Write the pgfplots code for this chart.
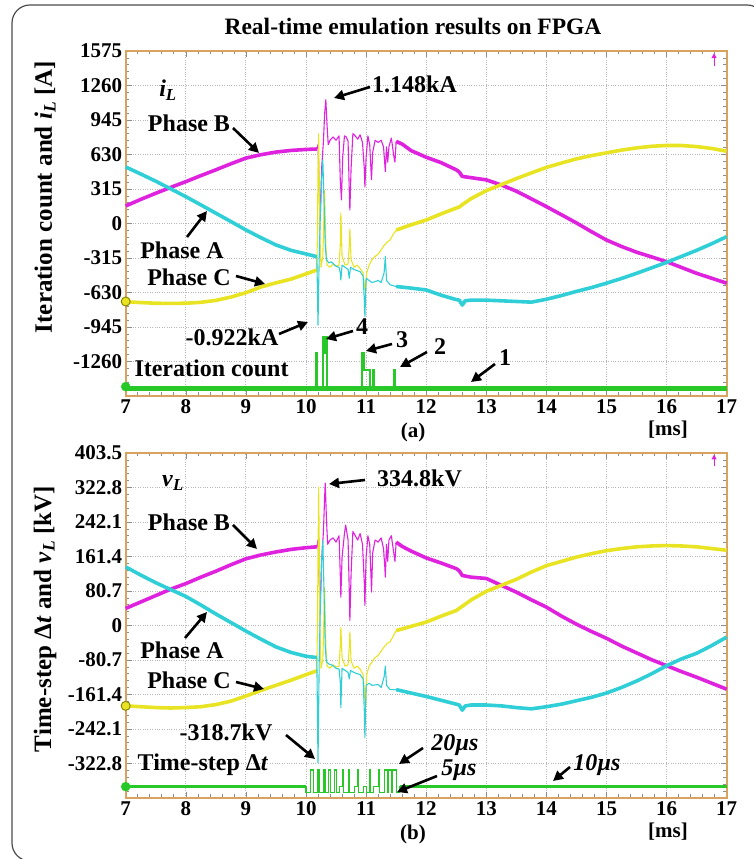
\documentclass[border=0pt]{standalone}
\usepackage{fontspec}
\setmainfont{Liberation Serif}
\usepackage{pgfplots}
\pgfplotsset{compat=1.18}
\usepackage{pgfplotstable}
\usetikzlibrary{arrows.meta}
\definecolor{cA}{RGB}{48,206,214}
\definecolor{cB}{RGB}{222,34,222}
\definecolor{cC}{RGB}{232,228,36}
\definecolor{cG}{RGB}{40,200,40}
\definecolor{frm}{RGB}{217,163,95}

% ---------- panel (a): currents [A] ----------
\pgfplotstableread{
t v
7.00 516
7.25 452
7.50 386
7.75 316
8.00 245
8.25 170
8.50 94
8.75 18
9.00 -59
9.25 -130
9.50 -196
9.75 -245
10.00 -278
10.18 -303
10.19 -600
10.20 -927
10.21 -600
10.22 -300
10.24 100
10.26 400
10.28 580
10.30 200
10.32 -200
10.34 -330
10.38 -360
10.42 -350
10.46 -370
10.50 -390
10.55 -400
10.57 -450
10.58 -516
10.60 -380
10.65 -400
10.70 -420
10.72 -500
10.74 -400
10.80 -420
10.90 -440
10.95 -480
10.97 -700
10.98 -850
11.00 -500
11.05 -520
11.10 -540
11.20 -520
11.25 -540
11.30 -450
11.32 -300
11.34 -520
11.40 -560
11.50 -575
11.75 -590
12.00 -607
12.25 -655
12.50 -695
12.55 -700
12.60 -745
12.65 -705
12.75 -700
13.00 -700
13.25 -706
13.50 -712
13.75 -718
14.00 -692
14.25 -658
14.50 -620
14.75 -585
15.00 -545
15.25 -502
15.50 -455
15.75 -405
16.00 -355
16.25 -300
16.50 -245
16.75 -185
17.00 -120
}\IA
\pgfplotstableread{
t v
7.00 160
7.25 220
7.50 276
7.75 330
8.00 382
8.25 437
8.50 490
8.75 545
9.00 597
9.25 628
9.50 652
9.75 667
10.00 676
10.18 680
10.20 720
10.22 300
10.24 100
10.26 500
10.29 750
10.31 1000
10.33 1130
10.35 900
10.37 720
10.40 760
10.45 790
10.50 760
10.55 800
10.57 400
10.59 215
10.61 600
10.64 800
10.67 790
10.70 750
10.72 300
10.73 123
10.75 500
10.78 820
10.82 800
10.86 770
10.90 810
10.94 740
10.97 500
10.98 333
11.00 600
11.03 800
11.06 720
11.08 500
11.09 400
11.11 650
11.15 760
11.20 740
11.25 760
11.29 700
11.31 550
11.32 473
11.34 700
11.36 560
11.38 700
11.42 780
11.46 620
11.48 560
11.50 750
11.60 725
11.75 665
12.00 605
12.25 555
12.50 490
12.55 470
12.60 430
12.75 418
13.00 398
13.25 352
13.50 295
13.75 225
14.00 154
14.25 80
14.50 5
14.75 -75
15.00 -151
15.25 -210
15.50 -262
15.75 -305
16.00 -349
16.25 -402
16.50 -455
16.75 -500
17.00 -545
}\IB
\pgfplotstableread{
t v
7.00 -715
7.25 -722
7.50 -728
7.75 -730
8.00 -728
8.25 -720
8.50 -702
8.75 -672
9.00 -632
9.25 -580
9.50 -542
9.75 -508
10.00 -460
10.18 -425
10.19 -100
10.20 500
10.21 820
10.22 400
10.23 -100
10.25 -400
10.28 -300
10.30 100
10.31 300
10.33 -200
10.35 -380
10.40 -400
10.45 -370
10.50 -390
10.55 -380
10.57 -200
10.58 96
10.60 -300
10.65 -380
10.70 -370
10.72 -200
10.73 -50
10.75 -330
10.80 -400
10.85 -380
10.90 -410
10.95 -450
10.97 -550
10.99 -640
11.01 -450
11.05 -380
11.10 -330
11.15 -300
11.20 -280
11.25 -240
11.30 -200
11.35 -170
11.40 -150
11.45 -100
11.50 -60
11.75 -12
12.00 32
12.25 88
12.50 141
12.55 150
12.60 172
12.75 228
13.00 300
13.25 355
13.50 410
13.75 462
14.00 512
14.25 552
14.50 590
14.75 620
15.00 645
15.25 670
15.50 690
15.75 705
16.00 712
16.25 712
16.50 702
16.75 685
17.00 660
}\IC
\pgfplotstableread{
t v
7.00 -1505
10.17 -1183
10.19 -1505
10.28 -1034
10.30 -1183
10.33 -1034
10.35 -1505
10.94 -1183
10.96 -1338
11.06 -1505
11.11 -1338
11.13 -1505
11.46 -1338
11.48 -1505
17.00 -1505
}\IG
\pgfplotstableread{
t v
7.00 -1505
17.00 -1505
}\IGbase

% ---------- panel (b): voltages [kV] ----------
\pgfplotstableread{
t v
7.00 137
7.25 118
7.50 100
7.75 84
8.00 68
8.25 48
8.50 27
8.75 7
9.00 -13
9.25 -32
9.50 -50
9.75 -63
10.00 -72
10.18 -75
10.19 -200
10.20 -321
10.21 -200
10.22 -80
10.24 50
10.26 150
10.28 199
10.30 80
10.32 -50
10.34 -85
10.38 -90
10.42 -92
10.46 -95
10.50 -100
10.55 -102
10.57 -130
10.58 -192
10.60 -100
10.65 -105
10.70 -110
10.72 -125
10.74 -105
10.80 -110
10.90 -115
10.95 -125
10.97 -200
10.98 -262
11.00 -140
11.05 -135
11.10 -140
11.20 -138
11.25 -145
11.30 -120
11.32 -95
11.34 -140
11.40 -150
11.50 -150
11.75 -158
12.00 -166
12.25 -175
12.50 -184
12.55 -186
12.60 -198
12.65 -188
12.75 -186
13.00 -186
13.25 -188
13.50 -192
13.75 -195
14.00 -190
14.25 -184
14.50 -176
14.75 -168
15.00 -158
15.25 -145
15.50 -130
15.75 -113
16.00 -94
16.25 -78
16.50 -65
16.75 -47
17.00 -27
}\VA
\pgfplotstableread{
t v
7.00 40
7.25 55
7.50 70
7.75 85
8.00 98
8.25 113
8.50 127
8.75 142
9.00 156
9.25 165
9.50 172
9.75 178
10.00 182
10.18 184
10.20 200
10.22 100
10.24 60
10.26 150
10.29 220
10.31 300
10.32 333
10.34 250
10.36 190
10.40 200
10.45 205
10.50 195
10.55 210
10.57 120
10.58 66
10.60 160
10.64 215
10.66 235
10.70 200
10.72 80
10.73 12
10.75 120
10.78 220
10.82 210
10.86 200
10.90 215
10.94 190
10.97 100
10.98 47
11.00 160
11.03 210
11.06 190
11.08 120
11.09 78
11.11 170
11.15 200
11.20 195
11.25 205
11.29 180
11.31 140
11.32 113
11.34 190
11.36 150
11.38 200
11.42 210
11.46 170
11.48 150
11.50 195
11.60 185
11.75 174
12.00 158
12.25 146
12.50 133
12.55 128
12.60 117
12.75 113
13.00 110
13.25 94
13.50 78
13.75 60
14.00 43
14.25 22
14.50 3
14.75 -14
15.00 -30
15.25 -48
15.50 -64
15.75 -80
16.00 -94
16.25 -108
16.50 -121
16.75 -135
17.00 -149
}\VB
\pgfplotstableread{
t v
7.00 -188
7.25 -190
7.50 -192
7.75 -193
8.00 -192
8.25 -190
8.50 -185
8.75 -177
9.00 -165
9.25 -152
9.50 -140
9.75 -128
10.00 -115
10.18 -106
10.19 0
10.20 150
10.21 324
10.22 200
10.23 0
10.25 -100
10.28 -80
10.30 30
10.31 90
10.33 -50
10.35 -95
10.40 -100
10.45 -92
10.50 -97
10.55 -95
10.57 -50
10.58 -4
10.60 -75
10.65 -95
10.70 -92
10.72 -50
10.73 -15
10.75 -83
10.80 -100
10.85 -95
10.90 -102
10.95 -115
10.97 -150
10.99 -199
11.01 -115
11.05 -95
11.10 -85
11.15 -75
11.20 -70
11.25 -60
11.30 -50
11.35 -42
11.40 -38
11.45 -25
11.50 -12
11.75 -2
12.00 8
12.25 22
12.50 35
12.60 45
12.75 60
13.00 80
13.25 94
13.50 108
13.75 125
14.00 140
14.25 150
14.50 160
14.75 168
15.00 175
15.25 180
15.50 184
15.75 186
16.00 187
16.25 186
16.50 184
16.75 180
17.00 176
}\VC
\pgfplotstableread{
t v
7.00 -377
10.00 -391
10.07 -338
10.12 -391
10.20 -338
10.23 -391
10.30 -338
10.33 -391
10.38 -338
10.41 -391
10.47 -338
10.50 -391
10.55 -377
10.60 -338
10.63 -391
10.70 -338
10.73 -391
10.80 -377
10.85 -338
10.88 -391
10.95 -377
11.00 -391
11.05 -338
11.08 -391
11.13 -377
11.20 -338
11.23 -391
11.30 -338
11.35 -391
11.37 -338
11.42 -391
11.44 -338
11.50 -391
11.56 -377
17.00 -377
}\VG
\pgfplotstableread{
t v
7.00 -377
10.00 -377
}\VGa
\pgfplotstableread{
t v
11.56 -377
17.00 -377
}\VGb

\pgfplotsset{
  osc/.style={
    scale only axis, width=601pt, height=345pt, anchor=south west,
    xmin=7, xmax=17, xtick={7,8,...,17},
    minor x tick num=4, minor y tick num=4,
    axis line style={draw=frm, line width=1.6pt},
    tick style={black!45, line width=0.6pt},
    major tick length=6pt, minor tick length=3.5pt,
    grid=major, major grid style={black!28, dotted, line width=0.9pt},
    ticklabel style={font=\fontsize{21}{21}\selectfont\bfseries},
    /pgf/number format/assume math mode=true,
    clip=false,
  },
  fat/.style={line width=3.6pt, line join=round},
  slim/.style={line width=1.1pt, line join=round},
}
\tikzset{
  lbl/.style={font=\fontsize{24}{24}\selectfont\bfseries, inner sep=0pt},
  arr/.style={line width=2.6pt, -{Triangle[length=10pt,width=10pt]}},
}

\begin{document}
\begin{tikzpicture}
% ---------------- panel (a) ----------------
\begin{axis}[osc, at={(125.7pt,463pt)},
  ymin=-1575, ymax=1575,
  ytick={-1575,-1260,-945,-630,-315,0,315,630,945,1260,1575},
  yticklabels={,-1260,-945,-630,-315,0,315,630,945,1260,1575}]
\addplot[cB, fat, restrict x to domain=7:10.18] table[x=t,y=v]{\IB};
\addplot[cB, slim, restrict x to domain=10.18:11.5] table[x=t,y=v]{\IB};
\addplot[cB, fat, restrict x to domain=11.5:17] table[x=t,y=v]{\IB};
\addplot[cC, fat, restrict x to domain=7:10.18] table[x=t,y=v]{\IC};
\addplot[cC, slim, restrict x to domain=10.18:11.5] table[x=t,y=v]{\IC};
\addplot[cC, fat, restrict x to domain=11.5:17] table[x=t,y=v]{\IC};
\addplot[cA, fat, restrict x to domain=7:10.18] table[x=t,y=v]{\IA};
\addplot[cA, slim, restrict x to domain=10.18:11.5] table[x=t,y=v]{\IA};
\addplot[cA, fat, restrict x to domain=11.5:17] table[x=t,y=v]{\IA};
\addplot[cG, line width=4.5pt] table[x=t,y=v]{\IGbase};
\addplot[cG, line width=2pt, const plot] table[x=t,y=v]{\IG};
\addplot[only marks, mark=*, mark size=4.5pt, fill=cC, draw=olive, line width=1pt] coordinates {(7,-712)};
\addplot[only marks, mark=*, mark size=4.5pt, fill=cG, draw=cG] coordinates {(7,-1490)};
\addplot[cB, line width=1pt, -{Triangle[length=5pt,width=5pt]}] coordinates {(16.79,1440) (16.79,1555)};
\end{axis}
% ---------------- panel (b) ----------------
\begin{axis}[osc, at={(125.7pt,61pt)},
  ymin=-403.5, ymax=403.5,
  ytick={-403.5,-322.8,-242.1,-161.4,-80.7,0,80.7,161.4,242.1,322.8,403.5},
  yticklabels={,-322.8,-242.1,-161.4,-80.7,0,80.7,161.4,242.1,322.8,403.5}]
\addplot[cB, fat, restrict x to domain=7:10.18] table[x=t,y=v]{\VB};
\addplot[cB, slim, restrict x to domain=10.18:11.5] table[x=t,y=v]{\VB};
\addplot[cB, fat, restrict x to domain=11.5:17] table[x=t,y=v]{\VB};
\addplot[cC, fat, restrict x to domain=7:10.18] table[x=t,y=v]{\VC};
\addplot[cC, slim, restrict x to domain=10.18:11.5] table[x=t,y=v]{\VC};
\addplot[cC, fat, restrict x to domain=11.5:17] table[x=t,y=v]{\VC};
\addplot[cA, fat, restrict x to domain=7:10.18] table[x=t,y=v]{\VA};
\addplot[cA, slim, restrict x to domain=10.18:11.5] table[x=t,y=v]{\VA};
\addplot[cA, fat, restrict x to domain=11.5:17] table[x=t,y=v]{\VA};
\addplot[cG, line width=1.1pt, const plot] table[x=t,y=v]{\VG};
\addplot[cG, line width=3.5pt] table[x=t,y=v]{\VGa};
\addplot[cG, line width=3.5pt] table[x=t,y=v]{\VGb};
\addplot[only marks, mark=*, mark size=4.5pt, fill=cC, draw=olive, line width=1pt] coordinates {(7,-188)};
\addplot[only marks, mark=*, mark size=4.5pt, fill=cG, draw=cG] coordinates {(7,-377)};
\addplot[cB, line width=1pt, -{Triangle[length=5pt,width=5pt]}] coordinates {(16.79,372) (16.79,400)};
\end{axis}
% ---------------- annotations (pixel coordinates, y downward) ----------------
\begin{scope}[x=1pt, y=-1pt, shift={(0pt,859pt)}]
\draw[black!70, line width=1.2pt, rounded corners=18pt] (790,861) -- (12,861) -- (12,5) -- (765,5) -- (765,900);
\node[font=\fontsize{23.5}{24}\selectfont\bfseries] at (413,27) {Real-time emulation results on FPGA};
\node[rotate=90, font=\fontsize{25}{25}\selectfont\bfseries] at (45,197) {Iteration count and \textit{i}\textsubscript{\textit{L}} [A]};
\node[rotate=90, font=\fontsize{25}{25}\selectfont\bfseries] at (45,619) {Time-step Δ\textit{t} and \textit{v}\textsubscript{\textit{L}} [kV]};
\node[font=\fontsize{21}{21}\selectfont\bfseries] at (413,432) {(a)};
\node[font=\fontsize{21}{21}\selectfont\bfseries] at (668,430) {[ms]};
\node[font=\fontsize{21}{21}\selectfont\bfseries] at (413,834) {(b)};
\node[font=\fontsize{21}{21}\selectfont\bfseries] at (668,832) {[ms]};
% panel (a)
\node[lbl] at (168,90) {\textit{i}\textsubscript{\textit{L}}};
\node[lbl, anchor=west] at (372,84) {1.148kA};
\draw[arr] (370,87) -- (334,98);
\node[lbl] at (189,123) {Phase B};
\draw[arr] (233,128) -- (259,153);
\node[lbl] at (182,250) {Phase A};
\draw[arr] (187,237) -- (207,211);
\node[lbl] at (189,277) {Phase C};
\draw[arr] (236,276) -- (265,284);
\node[lbl] at (232,337) {-0.922kA};
\draw[arr] (279,334) -- (308,322);
\node[lbl] at (362,327) {4};
\draw[arr] (353,331) -- (326,339);
\node[lbl] at (402,340) {3};
\draw[arr] (392,344) -- (366,351);
\node[lbl] at (440,347) {2};
\draw[arr] (427,352) -- (400,367);
\node[lbl] at (505,358) {1};
\draw[arr] (495,364) -- (471,382);
\node[lbl] at (211.5,368) {Iteration count};
% panel (b)
\node[lbl] at (173,483) {\textit{v}\textsubscript{\textit{L}}};
\node[lbl, anchor=west] at (377,478) {334.8kV};
\draw[arr] (365,480) -- (329,484);
\node[lbl] at (189,522) {Phase B};
\draw[arr] (233,525) -- (257,549);
\node[lbl] at (182,650) {Phase A};
\draw[arr] (185,638) -- (207,612);
\node[lbl] at (189,680) {Phase C};
\draw[arr] (236,682) -- (264,689);
\node[lbl] at (226,732) {-318.7kV};
\draw[arr] (286,735) -- (315,759);
\node[lbl] at (203,765) {Time-step Δ\textit{t}};
\node[lbl] at (455,745) {\textit{20µs}};
\draw[arr] (423,748) -- (399,764);
\node[lbl] at (459,770) {\textit{5µs}};
\draw[arr] (437,776) -- (397,792);
\node[lbl] at (597,765) {\textit{10µs}};
\draw[arr] (570,767) -- (553,781);
\end{scope}
\pgfresetboundingbox
\path[use as bounding box] (0,0) rectangle (754pt,859pt);
\end{tikzpicture}
\end{document}
